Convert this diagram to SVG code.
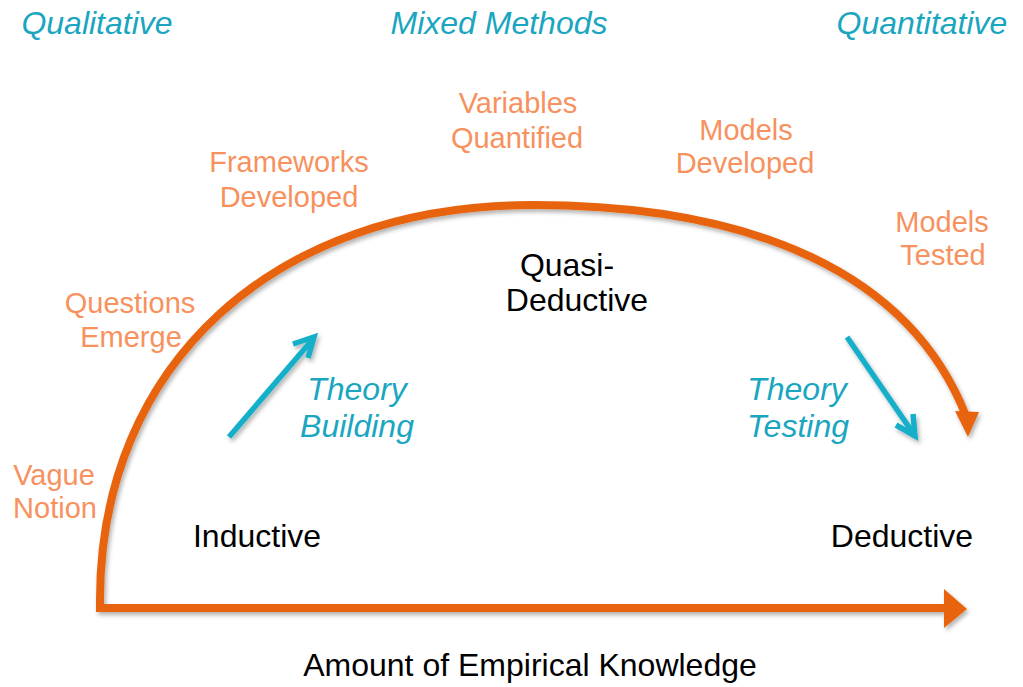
<svg xmlns="http://www.w3.org/2000/svg" width="1023" height="687" viewBox="0 0 1023 687">
<defs>
<style>
text{font-family:"Liberation Sans",Arial,Helvetica,sans-serif;text-anchor:middle}
.hdr{font-size:32px;font-style:italic;fill:#1AA6C0}
.stage{font-size:29px;fill:#F7915E}
.blk{font-size:32px;fill:#000}
.th{font-size:32px;font-style:italic;fill:#1AA6C0}
.orange{fill:none;stroke:#E8640C;stroke-width:8;stroke-linejoin:miter}
.ohead{fill:#E8640C}
.blue{fill:none;stroke:#14AFC9;stroke-width:5.5;stroke-linecap:butt;stroke-linejoin:miter}
</style>
<filter id="sh" x="-10%" y="-10%" width="120%" height="130%">
<feDropShadow dx="2" dy="3" stdDeviation="2" flood-color="#000" flood-opacity="0.3"/>
</filter>
</defs>
<g id="headers">
<text class="hdr" x="97" y="34">Qualitative</text>
<text class="hdr" x="499" y="34">Mixed Methods</text>
<text class="hdr" x="922" y="34">Quantitative</text>
</g>
<g id="connectors" filter="url(#sh)">
<path class="orange" d="M 945 608 H 100 V 600 C 100 365 273 205 533 205 C 753 205 910 273 966 416"/>
<polygon class="ohead" points="944,589 967,609 944,628"/>
<polygon class="ohead" points="955,411 979,412 968,437"/>
<path class="blue" d="M 229 437 L 313 339"/>
<path class="blue" d="M 293 344 L 314 337 L 308 358"/>
<path class="blue" d="M 847 337 L 913 433"/>
<path class="blue" d="M 896 425 L 915 436 L 913 414"/>
</g>
<g id="stage-vague"><text class="stage" x="54" y="485">Vague</text><text class="stage" x="55" y="518">Notion</text></g>
<g id="stage-questions"><text class="stage" x="130" y="313">Questions</text><text class="stage" x="131" y="347">Emerge</text></g>
<g id="stage-frameworks"><text class="stage" x="289" y="172">Frameworks</text><text class="stage" x="289" y="207">Developed</text></g>
<g id="stage-variables"><text class="stage" x="518" y="113">Variables</text><text class="stage" x="517" y="148">Quantified</text></g>
<g id="stage-models-dev"><text class="stage" x="746" y="140">Models</text><text class="stage" x="745" y="173">Developed</text></g>
<g id="stage-models-test"><text class="stage" x="942" y="232">Models</text><text class="stage" x="943" y="265">Tested</text></g>
<g id="quasi"><text class="blk" x="567" y="276">Quasi-</text><text class="blk" x="577" y="311">Deductive</text></g>
<g id="inductive"><text class="blk" x="257" y="547">Inductive</text></g>
<g id="deductive"><text class="blk" x="902" y="547">Deductive</text></g>
<g id="theory-building"><text class="th" x="357" y="400">Theory</text><text class="th" x="357" y="437">Building</text></g>
<g id="theory-testing"><text class="th" x="797" y="400">Theory</text><text class="th" x="798" y="437">Testing</text></g>
<g id="axis-label"><text class="blk" x="530" y="676">Amount of Empirical Knowledge</text></g>
</svg>
